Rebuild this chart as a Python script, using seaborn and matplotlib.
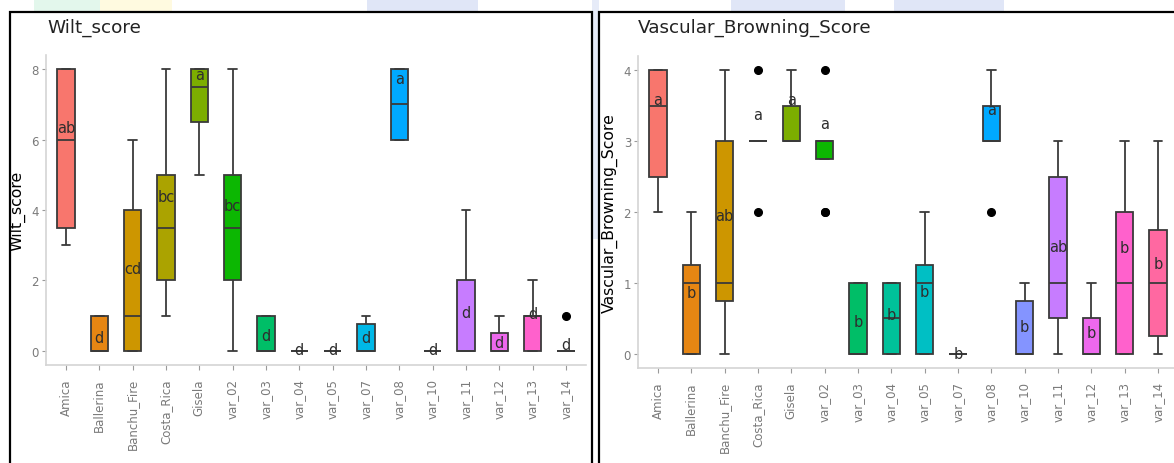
import matplotlib
matplotlib.use("Agg")
import matplotlib.pyplot as plt
from matplotlib.patches import Rectangle
import pandas as pd
import seaborn as sns

# Varieties in plotting order
varieties = ["Amica", "Ballerina", "Banchu_Fire", "Costa_Rica", "Gisela",
             "var_02", "var_03", "var_04", "var_05", "var_07", "var_08",
             "var_10", "var_11", "var_12", "var_13", "var_14"]

# ggplot default hue palette for 16 groups
palette_hex = ["#F8766D", "#E68613", "#CD9600", "#ABA300", "#7CAE00",
               "#0CB702", "#00BE67", "#00C19A", "#00BFC4", "#00B8E7",
               "#00A9FF", "#8494FF", "#C77CFF", "#ED68ED", "#FF61CC",
               "#FF68A1"]

# Wilt score observations per variety
wilt_obs = {
    "Amica":       [3, 3.5, 6, 8, 8],
    "Ballerina":   [0, 0, 0, 1, 1],
    "Banchu_Fire": [0, 0, 1, 4, 6],
    "Costa_Rica":  [1, 2, 3.5, 5, 8],
    "Gisela":      [5, 7, 8, 8],
    "var_02":      [0, 2, 3.5, 5, 8],
    "var_03":      [0, 0, 0, 1, 1],
    "var_04":      [0, 0, 0, 0, 0],
    "var_05":      [0, 0, 0, 0, 0],
    "var_07":      [0, 0, 0, 0, 1, 1],
    "var_08":      [6, 6, 7, 8, 8],
    "var_10":      [0, 0, 0, 0, 0],
    "var_11":      [0, 0, 0, 2, 4],
    "var_12":      [0, 0, 0, 0, 0, 1, 1],
    "var_13":      [0, 0, 1, 1, 2],
    "var_14":      [0, 0, 0, 0, 1],
}

# Vascular browning score observations per variety
vb_obs = {
    "Amica":       [2, 2.5, 3.5, 4, 4],
    "Ballerina":   [0, 0, 0, 1, 1, 1, 2, 2],
    "Banchu_Fire": [0, 0, 1, 1, 1, 3, 3, 4],
    "Costa_Rica":  [2, 3, 3, 3, 3, 3, 3, 4],
    "Gisela":      [3, 3, 4],
    "var_02":      [2, 2, 3, 3, 3, 3, 3, 4],
    "var_03":      [0, 0, 0, 1, 1],
    "var_04":      [0, 0, 1, 1],
    "var_05":      [0, 0, 0, 1, 1, 1, 2, 2],
    "var_07":      [0, 0, 0, 0, 0],
    "var_08":      [2, 3, 3, 3, 3, 4, 4],
    "var_10":      [0, 0, 0, 0, 1, 1],
    "var_11":      [0, 0, 1, 1, 2, 3, 3],
    "var_12":      [0, 0, 0, 0, 0, 1, 1],
    "var_13":      [0, 0, 1, 2, 3],
    "var_14":      [0, 0, 1, 1, 2, 3],
}

# Compact letter display from the post-hoc test, with label heights
wilt_letters = ["ab", "d", "cd", "bc", "a", "bc", "d", "d", "d", "d", "a",
                "d", "d", "d", "d", "d"]
wilt_letter_y = [6.35, 0.37, 2.33, 4.37, 7.86, 4.12, 0.45, 0.03, 0.03, 0.37,
                 7.72, 0.03, 1.10, 0.25, 1.05, 0.17]
vb_letters = ["a", "b", "ab", "a", "a", "a", "b", "b", "b", "b", "a",
              "b", "ab", "b", "b", "b"]
vb_letter_y = [3.59, 0.87, 1.95, 3.38, 3.59, 3.25, 0.45, 0.56, 0.88, 0.0,
               3.44, 0.38, 1.52, 0.30, 1.50, 1.27]

wilt_ticks = [0, 2, 4, 6, 8]
vb_ticks = [0, 1, 2, 3, 4]


def to_long(obs, col):
    rows = [(v, x) for v in varieties for x in obs[v]]
    return pd.DataFrame(rows, columns=["variety", col])


sns.set_style("ticks")
plt.rcParams["font.family"] = ["DejaVu Sans"]

W, H = 1174, 464
fig = plt.figure(figsize=(W / 100, H / 100), dpi=100)
fig.patch.set_facecolor("white")

# pale page background strips above the panels
strips = [(34, 100, "#E3F7EC"), (100, 172, "#FFFAE0"),
          (367, 478, "#E0E6F7"), (731, 845, "#E0E6F7"),
          (894, 1004, "#E0E6F7")]
for x0, x1, c in strips:
    fig.patches.append(Rectangle((x0 / W, 1 - 13 / H), (x1 - x0) / W, 13 / H,
                                 transform=fig.transFigure, facecolor=c,
                                 edgecolor="none", zorder=0))
fig.patches.append(Rectangle((592 / W, 1 - 240 / H), 7 / W, 240 / H,
                             transform=fig.transFigure, facecolor="#E6EBF8",
                             edgecolor="none", zorder=0))

# panel frames
for x0, x1 in [(10, 592), (599, 1190)]:
    fig.patches.append(Rectangle((x0 / W, -0.05), (x1 - x0) / W, 1.05 - 13 / H,
                                 transform=fig.transFigure, facecolor="white",
                                 edgecolor="black", linewidth=1.6, zorder=1))

pal = dict(zip(varieties, palette_hex))

panels = [
    dict(obs=wilt_obs, col="Wilt_score", letters=wilt_letters,
         ly=wilt_letter_y, ticks=wilt_ticks, ylim=(-0.4, 8.4),
         rect=[46 / W, (H - 366) / H, 540 / W, 310 / H], title_x=47),
    dict(obs=vb_obs, col="Vascular_Browning_Score", letters=vb_letters,
         ly=vb_letter_y, ticks=vb_ticks, ylim=(-0.2, 4.2),
         rect=[638 / W, (H - 369) / H, 540 / W, 312 / H], title_x=638),
]

grey_axis = "#D4D4D4"
tick_text = "#7A7A7A"

for p in panels:
    ax = fig.add_axes(p["rect"], zorder=2)
    ax.set_facecolor("none")
    df = to_long(p["obs"], p["col"])
    sns.boxplot(data=df, x="variety", y=p["col"], hue="variety",
                order=varieties, hue_order=varieties, palette=pal,
                saturation=1, width=0.52, linecolor="#3A3A3A",
                linewidth=1.3, legend=False, ax=ax,
                flierprops=dict(marker="o", markersize=5.5,
                                markerfacecolor="black",
                                markeredgecolor="black"))
    for i, (lab, y) in enumerate(zip(p["letters"], p["ly"])):
        ax.text(i, y, lab, ha="center", va="center", fontsize=10.5,
                color="#2E2E2E", zorder=5)
    ax.set_xlim(-0.6, len(varieties) - 0.4)
    ax.set_ylim(*p["ylim"])
    ax.set_yticks(p["ticks"])
    ax.set_xlabel("")
    ax.set_ylabel(p["col"], fontsize=11.3, color="black")
    ax.yaxis.set_label_coords(-0.038, 0.5)
    ax.tick_params(axis="x", rotation=90, labelsize=8.5, colors="#9A9A9A",
                   labelcolor=tick_text, length=3.5, width=0.8, pad=6)
    ax.tick_params(axis="y", labelsize=8.5, colors="#9A9A9A",
                   labelcolor=tick_text, length=3, width=0.8, pad=2)
    for s in ["top", "right"]:
        ax.spines[s].set_visible(False)
    for s in ["left", "bottom"]:
        ax.spines[s].set_color(grey_axis)
        ax.spines[s].set_linewidth(1.2)
    fig.text(p["title_x"] / W, 1 - 33 / H, p["col"], fontsize=13.2,
             color="#222222", ha="left", va="baseline", zorder=3)

fig.savefig("out.png", dpi=100, facecolor="white")
